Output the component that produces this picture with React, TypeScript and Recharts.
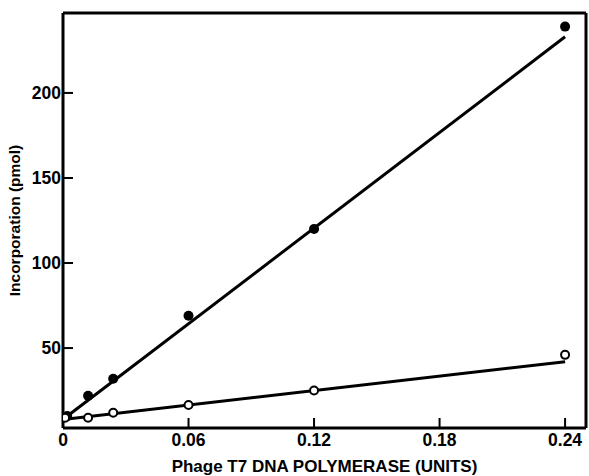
import { ComposedChart, Scatter, XAxis, YAxis, ReferenceLine } from "recharts";

// phage T7 DNA polymerase (units)
const filledX = [0.002, 0.012, 0.024, 0.06, 0.12, 0.24];
const filledY = [10, 22, 32, 69, 120, 239];
const openX = [0.001, 0.012, 0.024, 0.06, 0.12, 0.24];
const openY = [9, 9, 12, 16.5, 25, 46];

// hand-drawn fit lines (endpoints)
const fitFilledX = [0.001, 0.24];
const fitFilledY = [9, 233];
const fitOpenX = [0, 0.24];
const fitOpenY = [8, 42];

const xTicks = [0, 0.06, 0.12, 0.18, 0.24];
const xTickLabels = ["0", "0.06", "0.12", "0.18", "0.24"];
const yTicks = [50, 100, 150, 200];

const toPts = (xs: number[], ys: number[]) => xs.map((x, i) => ({ x, y: ys[i] }));

const FONT = "'Liberation Sans', Arial, sans-serif";

function XTick(props: any) {
  const { x, y, payload, index } = props;
  return (
    <g>
      {payload.value > 0 && <line x1={x} x2={x} y1={y} y2={y - 10} stroke="#000" strokeWidth={2} />}
      <text x={x} y={y + 18} textAnchor="middle" fontFamily={FONT} fontWeight="bold" fontSize={17.5} fill="#000">
        {xTickLabels[index] ?? payload.value}
      </text>
    </g>
  );
}

function YTick(props: any) {
  const { x, y, payload } = props;
  return (
    <g>
      <line x1={x} x2={x + 10} y1={y} y2={y} stroke="#000" strokeWidth={2} />
      <text x={x - 2} y={y + 6} textAnchor="end" fontFamily={FONT} fontWeight="bold" fontSize={17.5} fill="#000">
        {payload.value}
      </text>
    </g>
  );
}

const FilledDot = (p: any) => <circle cx={p.cx} cy={p.cy} r={5} fill="#000" />;
const OpenDot = (p: any) => <circle cx={p.cx} cy={p.cy} r={4} fill="#fff" stroke="#000" strokeWidth={2} />;
const NoDot = () => null;

export default function App() {
  return (
    <div style={{ position: "absolute", left: 0, top: 0, width: 589, height: 476, background: "#fff" }}>
      <ComposedChart width={589} height={476} margin={{ top: 13, right: 3, bottom: 0, left: 10 }}>
        <XAxis
          type="number"
          dataKey="x"
          domain={[0, 0.25]}
          ticks={xTicks}
          tick={<XTick />}
          tickLine={false}
          tickSize={0}
          tickMargin={0}
          axisLine={{ stroke: "#000", strokeWidth: 3 }}
          height={48}
          allowDataOverflow
          label={{
            value: "Phage T7 DNA POLYMERASE (UNITS)",
            position: "insideBottom",
            offset: 4,
            style: { fontFamily: FONT, fontWeight: "bold", fontSize: 17, fill: "#000" },
          }}
        />
        <YAxis
          type="number"
          dataKey="y"
          domain={[3, 247]}
          ticks={yTicks}
          tick={<YTick />}
          tickLine={false}
          tickSize={0}
          tickMargin={0}
          axisLine={{ stroke: "#000", strokeWidth: 3 }}
          width={53}
          allowDataOverflow
          label={{
            value: "Incorporation (pmol)",
            angle: -90,
            position: "insideLeft",
            offset: 0,
            dx: 4,
            style: { textAnchor: "middle", fontFamily: FONT, fontWeight: "bold", fontSize: 15.5, fill: "#000" },
          }}
        />
        <ReferenceLine y={247} stroke="#000" strokeWidth={3} />
        <ReferenceLine x={0.25} stroke="#000" strokeWidth={3} />
        <Scatter data={toPts(fitFilledX, fitFilledY)} line={{ stroke: "#000", strokeWidth: 3 }} shape={NoDot} isAnimationActive={false} />
        <Scatter data={toPts(fitOpenX, fitOpenY)} line={{ stroke: "#000", strokeWidth: 3 }} shape={NoDot} isAnimationActive={false} />
        <Scatter data={toPts(filledX, filledY)} shape={FilledDot} isAnimationActive={false} />
        <Scatter data={toPts(openX, openY)} shape={OpenDot} isAnimationActive={false} />
      </ComposedChart>
    </div>
  );
}
